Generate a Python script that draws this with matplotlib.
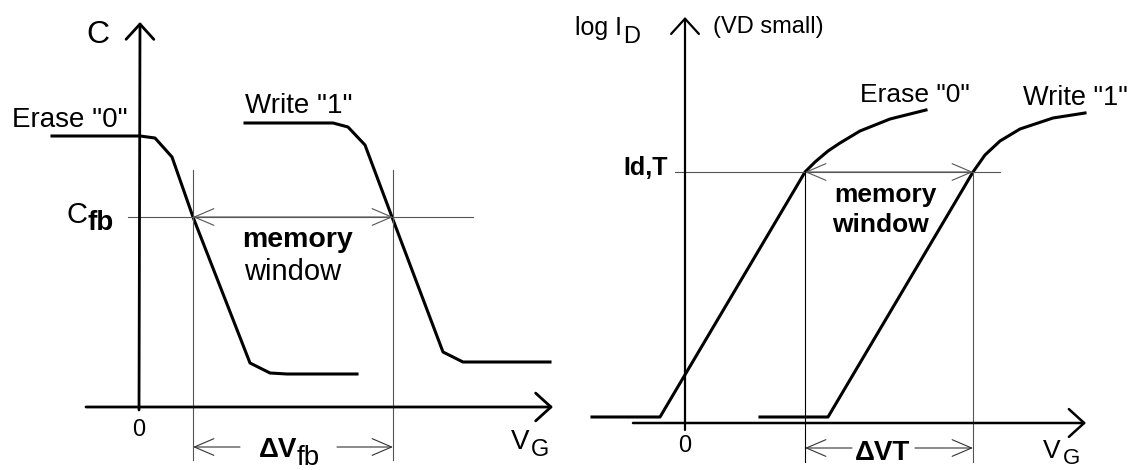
import matplotlib.pyplot as plt

plt.rcParams['font.family'] = ['Liberation Sans', 'DejaVu Sans']

# %% data (arbitrary units)
# left: C-V curves
cv_erase_v = [-4.35, 0.05, 0.8, 1.65, 2.7, 5.55, 6.55, 7.4, 10.9]
cv_erase_c = [13.55, 13.55, 13.45, 12.5, 9.5, 2.2, 1.7, 1.65, 1.65]
cv_write_v = [5.3, 9.7, 10.45, 11.3, 12.65, 15.2, 16.2, 20.55]
cv_write_c = [14.2, 14.2, 14.0, 13.1, 9.5, 2.75, 2.25, 2.25]
c_fb = 9.5
vfb_erase = 2.7
vfb_write = 12.7

# right: log ID - VG curves
id_erase_v = [-4.65, -1.25, 5.5, 6.0, 6.5, 7.15, 7.75, 8.75, 10.25, 12.05]
id_erase_i = [0.3, 0.3, 11.7, 12.55, 13.05, 13.6, 14.0, 14.6, 15.2, 15.65]
id_write_v = [3.75, 7.15, 13.9, 14.4, 15.0, 15.75, 16.75, 18.4, 20.0]
id_write_i = [0.3, 0.3, 11.7, 12.55, 13.4, 14.1, 14.7, 15.25, 15.5]
id_t = 12.55
vt_erase = 6.0
vt_write = 14.4

fig = plt.figure(figsize=(11.34, 4.70), dpi=100)
axL = fig.add_axes([0, 0, 565 / 1134, 1])
axR = fig.add_axes([565 / 1134, 0, 569 / 1134, 1])
axL.set_xlim(-6.95, 21.3)
axL.set_ylim(-3.15, 20.35)
axR.set_xlim(-6.0, 22.45)
axR.set_ylim(-2.35, 21.15)
for ax in (axL, axR):
    ax.axis('off')


def axis_arrow(lw):
    return dict(arrowstyle='->,head_length=0.55,head_width=0.5', lw=lw,
                color='black', shrinkA=0, shrinkB=0, mutation_scale=20)


win_arrow = dict(arrowstyle='<->,head_length=1.4,head_width=0.6', lw=0.8,
                 color='#555555', shrinkA=0, shrinkB=0, mutation_scale=10)
one_arrow = dict(arrowstyle='->,head_length=1.4,head_width=0.6', lw=0.8,
                 color='#333333', shrinkA=0, shrinkB=0, mutation_scale=10)

# %% left panel
axL.annotate('', xy=(0.05, 19.25), xytext=(0, -0.15), arrowprops=axis_arrow(2.0))
axL.annotate('', xy=(20.7, 0), xytext=(-2.65, 0), arrowprops=axis_arrow(2.0))

axL.plot(cv_erase_v, cv_erase_c, color='black', lw=2.2)
axL.plot(cv_write_v, cv_write_c, color='black', lw=2.2)

axL.plot([-0.55, 16.7], [c_fb, c_fb], color='#555555', lw=0.8)
for v in (vfb_erase, vfb_write):
    axL.plot([v, v], [11.85, -2.65], color='#555555', lw=0.8)
axL.annotate('', xy=(vfb_erase, c_fb), xytext=(vfb_write, c_fb), arrowprops=win_arrow)
axL.annotate('', xy=(vfb_erase, -2.0), xytext=(5.05, -2.0), arrowprops=one_arrow)
axL.annotate('', xy=(vfb_write, -2.0), xytext=(9.9, -2.0), arrowprops=one_arrow)

axL.text(-2.05, 18.6, 'C', fontsize=23, ha='center', va='center')
axL.text(-6.35, 14.0, 'Erase "0"', fontsize=20, ha='left', va='baseline')
axL.text(5.3, 14.7, 'Write "1"', fontsize=20, ha='left', va='baseline')
axL.text(-2.55, 9.2, 'C', fontsize=21, ha='right', va='baseline')
axL.text(-2.55, 8.85, 'fb', fontsize=20, fontweight='bold', ha='left', va='baseline')
axL.text(7.95, 8.0, 'memory', fontsize=20.5, fontweight='bold', ha='center', va='baseline')
axL.text(7.7, 6.35, 'window', fontsize=21, ha='center', va='baseline')
axL.text(0, -1.15, '0', fontsize=17, ha='center', va='center')
axL.text(7.9, -2.5, '\u0394V', fontsize=20, fontweight='bold', ha='right', va='baseline')
axL.text(7.9, -2.9, 'fb', fontsize=20, ha='left', va='baseline')
axL.text(18.6, -2.1, 'V', fontsize=20, ha='left', va='baseline')
axL.text(19.6, -2.45, 'G', fontsize=17, ha='left', va='baseline')

# %% right panel
axR.annotate('', xy=(0, 20.3), xytext=(0, -0.35), arrowprops=axis_arrow(1.6))
axR.annotate('', xy=(20.05, 0), xytext=(-2.6, 0), arrowprops=axis_arrow(1.8))

axR.plot(id_erase_v, id_erase_i, color='black', lw=2.2)
axR.plot(id_write_v, id_write_i, color='black', lw=2.2)

axR.plot([-0.5, 15.75], [id_t, id_t], color='#555555', lw=0.8)
axR.plot([vt_erase, vt_erase], [id_t, -1.95], color='black', lw=0.8)
axR.plot([vt_write, vt_write], [id_t, -1.95], color='#555555', lw=0.8)
axR.annotate('', xy=(vt_erase, id_t), xytext=(vt_write, id_t), arrowprops=win_arrow)
axR.annotate('', xy=(vt_erase, -1.25), xytext=(8.35, -1.25), arrowprops=one_arrow)
axR.annotate('', xy=(vt_write, -1.25), xytext=(11.5, -1.25), arrowprops=one_arrow)

axR.text(-5.5, 19.4, 'log I', fontsize=18, ha='left', va='baseline')
axR.text(-3.1, 19.0, 'D', fontsize=17, ha='left', va='baseline')
axR.text(1.4, 19.5, '(VD small)', fontsize=17, ha='left', va='baseline')
axR.text(-0.85, 12.4, 'Id,T', fontsize=18, fontweight='bold', ha='right', va='baseline')
axR.text(8.75, 16.05, 'Erase "0"', fontsize=19, ha='left', va='baseline')
axR.text(16.9, 15.9, 'Write "1"', fontsize=19.5, ha='left', va='baseline')
axR.text(10.0, 11.05, 'memory', fontsize=19, fontweight='bold', ha='center', va='baseline')
axR.text(9.75, 9.55, 'window', fontsize=19, fontweight='bold', ha='center', va='baseline')
axR.text(0, -1.15, '0', fontsize=17, ha='center', va='center')
axR.text(9.9, -1.85, '\u0394VT', fontsize=20, fontweight='bold', ha='center', va='baseline')
axR.text(17.9, -1.75, 'V', fontsize=19, ha='left', va='baseline')
axR.text(18.9, -2.05, 'G', fontsize=16, ha='left', va='baseline')

fig.savefig('out.png', dpi=100, facecolor='white')
